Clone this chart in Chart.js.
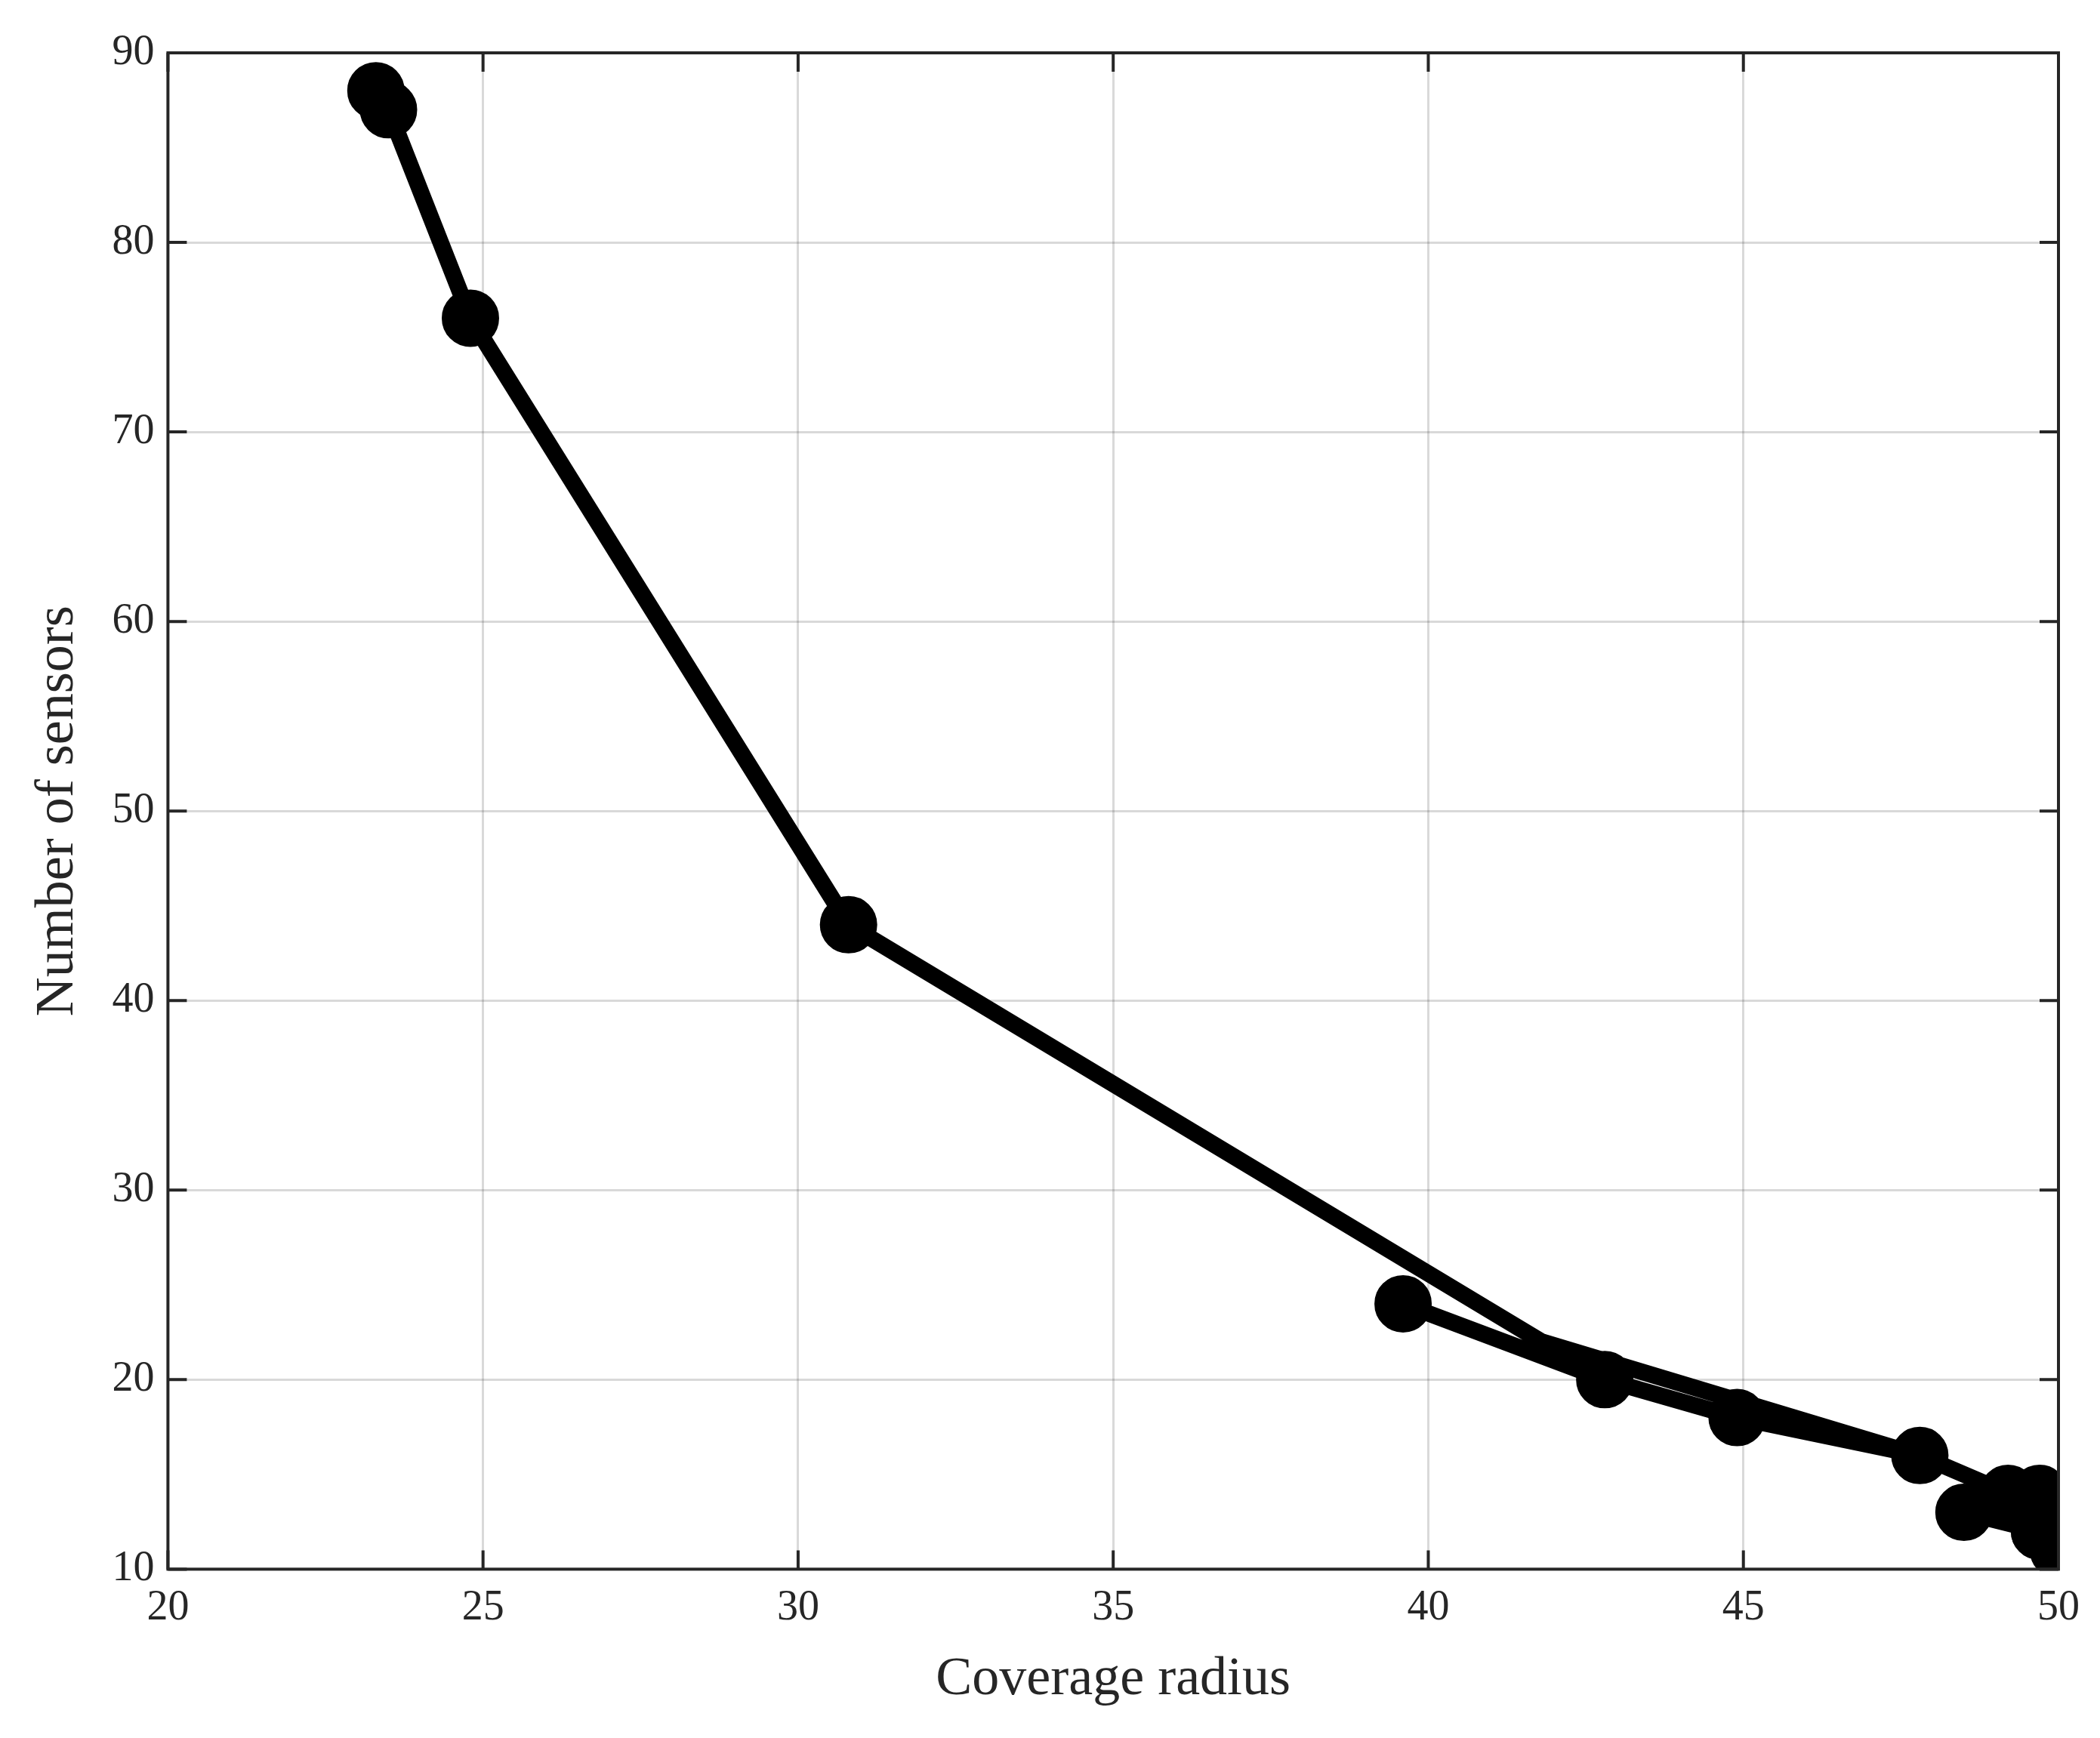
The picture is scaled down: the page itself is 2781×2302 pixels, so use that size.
<!DOCTYPE html>
<html><head><script src="https://cdn.jsdelivr.net/npm/chart.js@4"></script>
<style>html,body{margin:0;background:#fff}#w{width:2781px;height:2302px}</style></head>
<body><div id="w"><canvas id="c" width="2781" height="2302"></canvas></div>
<script>
const radius = [23.3, 23.5, 24.8, 30.8, 41.8, 47.8, 49.2, 49.7, 49.7, 50.0, null, 39.6, 42.8, 44.9, 47.8, null, 48.5, 49.7];
const sensors = [88, 87, 76, 44, 22, 16, 14, 14, 12, 11, null, 24, 20, 18, 16, null, 13, 12];
const hasMarker = [1,1,1,1,0,1,1,1,1,1,0,1,1,1,0,0,1,1];
const xTicks = [20,25,30,35,40,45,50];
const yTicks = [10,20,30,40,50,60,70,80,90];
const pts = radius.map((x,i)=> x===null ? {x:null,y:null} : {x, y:sensors[i]});
const font = 'Liberation Serif, DejaVu Serif, serif';
const col = '#262626';
const inTicks = {id:'inTicks', afterDraw(c){
  const {ctx, chartArea:a, scales:{x,y}} = c;
  ctx.save(); ctx.strokeStyle=col; ctx.lineWidth=4;
  ctx.strokeRect(a.left,a.top,a.right-a.left,a.bottom-a.top);
  const L=25;
  xTicks.forEach(v=>{const p=x.getPixelForValue(v);ctx.beginPath();ctx.moveTo(p,a.bottom);ctx.lineTo(p,a.bottom-L);ctx.moveTo(p,a.top);ctx.lineTo(p,a.top+L);ctx.stroke();});
  yTicks.forEach(v=>{const p=y.getPixelForValue(v);ctx.beginPath();ctx.moveTo(a.left,p);ctx.lineTo(a.left+L,p);ctx.moveTo(a.right,p);ctx.lineTo(a.right-L,p);ctx.stroke();});
  ctx.restore();
}};
new Chart(document.getElementById('c'), {
  type:'line',
  data:{datasets:[{data:pts, borderColor:'#000', backgroundColor:'#000', borderWidth:22,
    pointRadius: hasMarker.map(m=>m?27:0), pointHoverRadius:0, pointBackgroundColor:'#000', spanGaps:false, tension:0}]},
  options:{responsive:false, animation:false, devicePixelRatio:1,
    layout:{padding:{left:30,right:55,top:70,bottom:30}},
    plugins:{legend:{display:false}, tooltip:{enabled:false}},
    scales:{
      x:{type:'linear', min:20, max:50, afterBuildTicks:s=>{s.ticks=xTicks.map(v=>({value:v}));},
        grid:{color:'rgba(0,0,0,0.15)', lineWidth:3, drawTicks:false}, border:{display:false},
        ticks:{color:col, font:{family:font,size:56}, padding:18},
        title:{display:true, text:'Coverage radius', color:col, font:{family:font,size:72}, padding:{top:0}}},
      y:{type:'linear', min:10, max:90, afterBuildTicks:s=>{s.ticks=yTicks.map(v=>({value:v}));},
        grid:{color:'rgba(0,0,0,0.15)', lineWidth:3, drawTicks:false}, border:{display:false},
        ticks:{color:col, font:{family:font,size:56}, padding:18},
        title:{display:true, text:'Number of sensors', color:col, font:{family:font,size:72}, padding:{bottom:10}}}
    }},
  plugins:[inTicks]
});
</script></body></html>
